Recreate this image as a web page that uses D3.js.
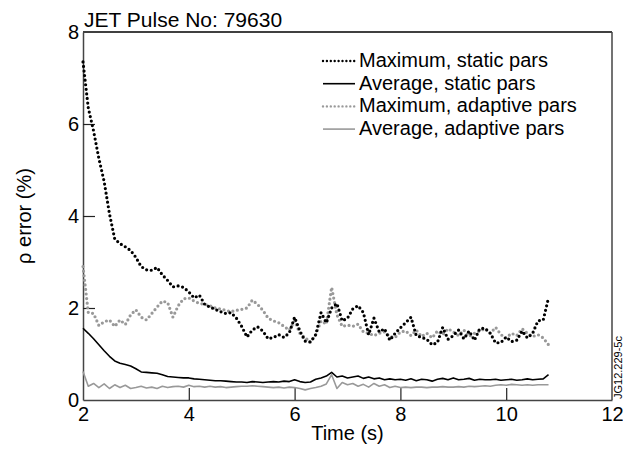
<html>
<head>
<script src="https://d3js.org/d3.v7.min.js"></script>
<style>
  body { margin: 0; background: #fff; }
  svg text { font-family: "Liberation Sans", Arial, sans-serif; fill: #000; }
</style>
</head>
<body>
<script>
// sample times: 2.0 .. 10.8 s every 0.1 s
var times = d3.range(0, 89).map(function(i) { return +(2 + i * 0.1).toFixed(1); });

var maxStatic = [
  7.35, 6.35, 5.85, 5.25, 4.75, 4.05, 3.5, 3.4, 3.33, 3.25,
  3.1, 2.9, 2.83, 2.82, 2.88, 2.72, 2.6, 2.46, 2.48, 2.45,
  2.35, 2.22, 2.28, 2.08, 2.02, 1.97, 1.92, 1.88, 1.9, 1.78,
  1.6, 1.37, 1.52, 1.59, 1.5, 1.33, 1.36, 1.42, 1.36, 1.46,
  1.8, 1.5, 1.28, 1.26, 1.42, 1.9, 1.68, 2.0, 2.1, 1.72,
  1.78, 1.98, 2.05, 1.9, 1.42, 1.78, 1.48, 1.55, 1.3, 1.45,
  1.57, 1.68, 1.8, 1.4, 1.36, 1.32, 1.2, 1.25, 1.58, 1.32,
  1.4, 1.52, 1.33, 1.5, 1.3, 1.55, 1.56, 1.45, 1.24, 1.25,
  1.37, 1.27, 1.3, 1.5, 1.35, 1.45, 1.72, 1.74, 2.22
];
var avgStatic = [
  1.56, 1.45, 1.33, 1.2, 1.07, 0.95, 0.85, 0.8, 0.77, 0.74,
  0.68, 0.61, 0.6, 0.59, 0.58, 0.55, 0.51, 0.5, 0.49, 0.48,
  0.48, 0.46, 0.45, 0.44, 0.43, 0.42, 0.42, 0.41, 0.4, 0.39,
  0.39, 0.38, 0.4, 0.39, 0.38, 0.39, 0.4, 0.39, 0.41, 0.4,
  0.44, 0.4, 0.38, 0.39, 0.45, 0.48, 0.52, 0.6, 0.5, 0.52,
  0.48, 0.5, 0.52, 0.47, 0.5, 0.46, 0.48, 0.44, 0.46, 0.44,
  0.45, 0.43, 0.46, 0.42, 0.45, 0.44, 0.41, 0.45, 0.47, 0.44,
  0.48, 0.44, 0.45, 0.47, 0.43, 0.45, 0.44, 0.44, 0.45, 0.43,
  0.44, 0.45, 0.43, 0.44, 0.46, 0.44, 0.45, 0.46, 0.55
];
var maxAdaptive = [
  2.9, 1.9, 1.88, 1.62, 1.7, 1.74, 1.6, 1.74, 1.64, 1.85,
  1.96, 1.8, 1.74, 1.88, 2.02, 2.15, 2.12, 1.8, 2.05, 2.2,
  2.22, 2.15, 2.1, 2.08, 2.05, 2.0, 1.98, 1.95, 1.92, 1.95,
  1.97, 2.0, 2.17, 2.08, 1.95, 1.78, 1.72, 1.68, 1.6, 1.52,
  1.72, 1.45, 1.35, 1.26, 1.42, 1.72, 1.65, 2.45, 1.85, 1.6,
  1.63, 1.6, 1.65, 1.48, 1.45, 1.4, 1.45, 1.48, 1.38, 1.36,
  1.48, 1.5, 1.4, 1.52, 1.38, 1.45, 1.35, 1.5, 1.42, 1.55,
  1.48, 1.4, 1.52, 1.38, 1.45, 1.5, 1.55, 1.45, 1.58, 1.42,
  1.35, 1.45, 1.4, 1.55, 1.45, 1.38, 1.42, 1.35, 1.2
];
var avgAdaptive = [
  0.62, 0.3, 0.36, 0.27, 0.35, 0.25, 0.33, 0.27, 0.32, 0.25,
  0.27, 0.3, 0.26, 0.28, 0.25, 0.3, 0.27, 0.29, 0.3, 0.28,
  0.32, 0.29, 0.3, 0.28, 0.3, 0.28, 0.29, 0.27, 0.28, 0.29,
  0.3, 0.3, 0.31, 0.3, 0.29, 0.28, 0.27, 0.28, 0.26, 0.28,
  0.27, 0.25, 0.22, 0.25, 0.27, 0.3, 0.35, 0.55, 0.25, 0.38,
  0.33, 0.36, 0.3, 0.34, 0.28, 0.36, 0.3, 0.33, 0.27, 0.3,
  0.27, 0.28, 0.27, 0.28, 0.28, 0.27, 0.28, 0.28, 0.29, 0.28,
  0.28, 0.29, 0.28, 0.3, 0.29, 0.3, 0.31, 0.3, 0.32, 0.33,
  0.32, 0.34, 0.33, 0.32, 0.33, 0.32, 0.33, 0.33, 0.33
];

var xTicks = [2, 4, 6, 8, 10, 12];
var yTicks = [0, 2, 4, 6, 8];

var series = [
  { name: "Maximum, static pars",   values: maxStatic,   color: "#000", dotted: true },
  { name: "Average, static pars",   values: avgStatic,   color: "#000", dotted: false },
  { name: "Maximum, adaptive pars", values: maxAdaptive, color: "#999", dotted: true },
  { name: "Average, adaptive pars", values: avgAdaptive, color: "#999", dotted: false }
];

var W = 623, H = 453;
var pLeft = 83, pRight = 612, pTop = 32, pBottom = 400;

var svg = d3.select("body").append("svg")
  .attr("width", W).attr("height", H);

var x = d3.scaleLinear().domain([2, 12]).range([pLeft, pRight]);
var y = d3.scaleLinear().domain([0, 8]).range([pBottom, pTop]);

// frame
svg.append("line").attr("x1", pLeft).attr("x2", pRight).attr("y1", pTop).attr("y2", pTop)
  .attr("stroke", "#000").attr("stroke-width", 1.5);
svg.append("line").attr("x1", pRight).attr("x2", pRight).attr("y1", pTop).attr("y2", pBottom)
  .attr("stroke", "#444").attr("stroke-width", 1.5);

var xAxis = svg.append("g")
  .attr("transform", "translate(0," + pBottom + ")")
  .call(d3.axisBottom(x).tickValues(xTicks).tickSizeInner(-12).tickSizeOuter(0).tickPadding(7));
var yAxis = svg.append("g")
  .attr("transform", "translate(" + pLeft + ",0)")
  .call(d3.axisLeft(y).tickValues(yTicks).tickSizeInner(-12).tickSizeOuter(0).tickPadding(4));

[xAxis, yAxis].forEach(function(a) {
  a.select(".domain").attr("stroke", "#444").attr("stroke-width", 1.5);
  a.selectAll(".tick line").attr("stroke", "#222").attr("stroke-width", 1.2);
  a.selectAll(".tick text")
    .style("font-size", "20px")
    .style("font-family", "Liberation Sans, Arial, sans-serif")
    .attr("fill", "#000");
});
xAxis.selectAll(".tick text").attr("dy", "0.71em");
yAxis.selectAll(".tick text").attr("dy", "0.3em");
// no tick marks where the axis meets the frame
xAxis.selectAll(".tick").filter(function(d) { return d === 2 || d === 12; }).select("line").remove();
yAxis.selectAll(".tick").filter(function(d) { return d === 0 || d === 8; }).select("line").remove();

// curves
var line = d3.line()
  .x(function(d, i) { return x(times[i]); })
  .y(function(d) { return y(d); });

var drawOrder = [1, 3, 2, 0];
drawOrder.forEach(function(k) {
  var s = series[k];
  var p = svg.append("path")
    .attr("d", line(s.values))
    .attr("fill", "none")
    .attr("stroke", s.color);
  if (s.dotted) {
    p.attr("stroke-width", 3.2)
      .attr("stroke-linecap", "round")
      .attr("stroke-dasharray", "0,4.6");
  } else {
    p.attr("stroke-width", 1.6)
      .attr("stroke-linejoin", "round");
  }
});

// legend
var legend = svg.append("g");
series.forEach(function(s, i) {
  var by = 67 + i * 22.7;
  var l = legend.append("line")
    .attr("x1", 323).attr("x2", 355)
    .attr("y1", by - 6).attr("y2", by - 6)
    .attr("stroke", s.color);
  if (s.dotted) {
    l.attr("stroke-width", 2.4).attr("stroke-linecap", "round").attr("stroke-dasharray", "0,3.9");
  } else {
    l.attr("stroke-width", 1.6);
  }
  legend.append("text")
    .attr("x", 359).attr("y", by)
    .style("font-size", "20px")
    .text(s.name);
});

// titles
svg.append("text")
  .attr("x", 84).attr("y", 27)
  .style("font-size", "21px")
  .text("JET Pulse No: 79630");

svg.append("text")
  .attr("transform", "translate(31," + ((pTop + pBottom) / 2) + ") rotate(-90)")
  .attr("text-anchor", "middle")
  .style("font-size", "20px")
  .text("ρ error (%)");

svg.append("text")
  .attr("x", (pLeft + pRight) / 2).attr("y", 440)
  .attr("text-anchor", "middle")
  .style("font-size", "20px")
  .text("Time (s)");

svg.append("text")
  .attr("transform", "translate(621.5,399) rotate(-90)")
  .style("font-size", "11px")
  .text("JG12.229-5c");
</script>
</body>
</html>
